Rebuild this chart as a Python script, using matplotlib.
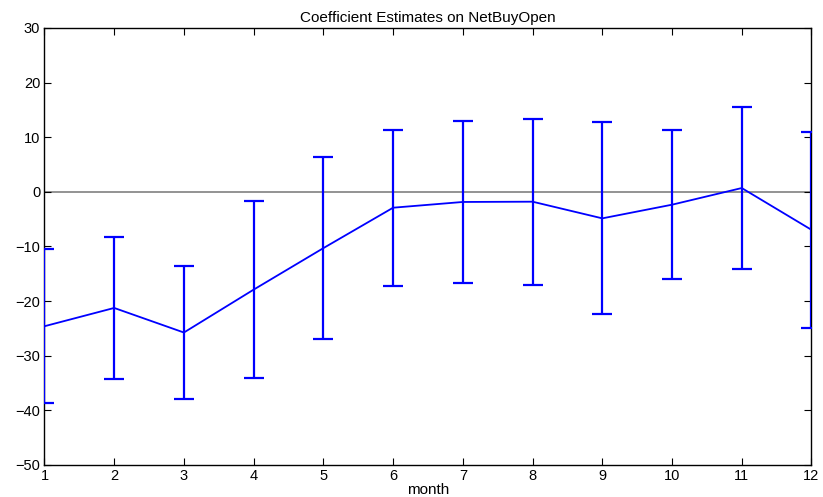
import numpy as np
import matplotlib
matplotlib.use("Agg")
import matplotlib.pyplot as plt

plt.rcParams['font.family'] = ['Liberation Sans', 'DejaVu Sans']

months = [1, 2, 3, 4, 5, 6, 7, 8, 9, 10, 11, 12]
estimate = [-24.6, -21.25, -25.75, -17.9, -10.3, -2.9, -1.85, -1.8, -4.85, -2.35, 0.7, -6.95]
halfwidth = [14.1, 12.95, 12.25, 16.2, 16.6, 14.3, 14.85, 15.2, 17.55, 13.65, 14.8, 17.95]

fig = plt.figure(figsize=(8.23, 4.97), dpi=100)
ax = fig.add_axes([0.054, 0.0644, 0.932, 0.8793])

ax.plot([months[0], months[-1]], [0, 0], color='#808080', lw=1.2, zorder=1)
# errorbars drawn above the spines, like the matlab figure
ax.errorbar(months, estimate, yerr=halfwidth, color='#0000ff', lw=1.3,
            elinewidth=1.6, capsize=7, capthick=1.6, zorder=3)

ax.set_xlim(1, 12)
ax.set_ylim(-50, 30)
ax.set_xticks(months)
ax.set_yticks(np.arange(-50, 31, 10))
ax.tick_params(direction='in', length=5, width=0.8, top=True, right=True,
               labelsize=10.5, pad=3)
for s in ax.spines.values():
    s.set_linewidth(1.0)

ax.set_title('Coefficient Estimates on NetBuyOpen', fontsize=11, pad=4)
ax.set_xlabel('month', fontsize=11, labelpad=0)

fig.savefig('out.png', dpi=100)
